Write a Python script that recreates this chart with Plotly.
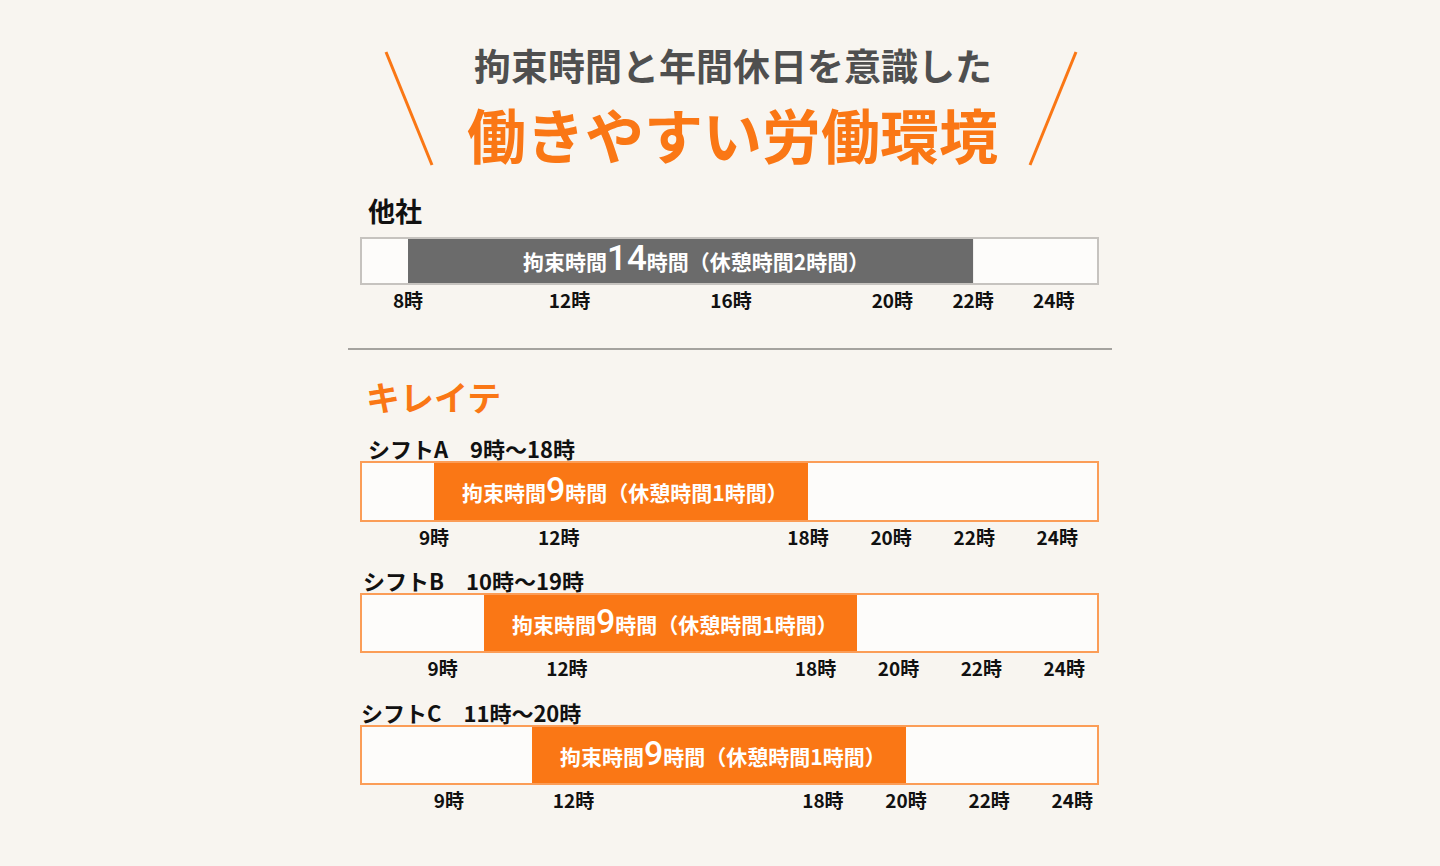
import plotly.graph_objects as go

W, H = 1440, 866
BG = "#f8f5f0"
ORANGE = "#fa7715"
GRAY_BAR = "#6b6b6b"
FONT = "Noto Sans CJK JP"
DIGIT_FONT = "Roboto"

# ---- data ----
other_label = "他社"
other_start, other_end = 8, 22
other_total, other_break = 14, 2
other_ticks = [8, 12, 16, 20, 22, 24]

shift_names = ["シフトA", "シフトB", "シフトC"]
shift_starts = [9, 10, 11]
shift_ends = [18, 19, 20]
shift_total = [9, 9, 9]
shift_break = [1, 1, 1]
shift_ticks = [9, 12, 18, 20, 22, 24]

title1 = "拘束時間と年間休日を意識した"
title2 = "働きやすい労働環境"
section2 = "キレイテ"

# ---- layout helpers (pixel -> paper) ----
def px(x):
    return x / W

def py(y):
    return 1 - y / H

box_x = [362, 1097]
rows = [  # (top, bottom) pixel of each box
    (239, 283),
    (463, 520),
    (595, 651),
    (727, 783),
]
ranges = [
    [6.86, 25.07],
    [7.267, 24.955],
    [7.056, 24.791],
    [6.909, 24.596],
]
text_shift = [(5, 2), (4, 2), (4, 2), (4, 2)]

fig = go.Figure()
annotations = []
layout = {}

def bar_text(total, brk, big):
    return (f"拘束時間<span style='font-size:{big}px;font-family:{DIGIT_FONT};font-weight:500'>{total}</span>"
            f"時間（休憩時間{brk}時間）")

all_rows = [(other_start, other_end, other_total, other_break, GRAY_BAR, "#c6c3bf", other_ticks, 35)]
for s, e, t, b in zip(shift_starts, shift_ends, shift_total, shift_break):
    all_rows.append((s, e, t, b, ORANGE, "#fb9d57", shift_ticks, 34))

for i, (s, e, t, b, col, lcol, ticks, big) in enumerate(all_rows):
    n = "" if i == 0 else str(i + 1)
    xa, ya = "x" + n, "y" + n
    fig.add_trace(go.Bar(
        x=[e - s], base=[s], y=[0], orientation="h", width=1,
        marker=dict(color=col, line=dict(width=0)),
        xaxis=xa, yaxis=ya, hoverinfo="skip", showlegend=False,
    ))
    top, bot = rows[i]
    layout["xaxis" + n] = dict(
        domain=[px(box_x[0]), px(box_x[1])], anchor=ya, range=ranges[i],
        tickvals=ticks, ticktext=[f"{v}時" for v in ticks],
        tickfont=dict(family=FONT, size=19, color="#111111", weight=700),
        showgrid=False, zeroline=False, showline=True, mirror=True,
        linecolor=lcol, linewidth=1.5, ticks="", fixedrange=True,
        ticklabelstandoff=0,
    )
    layout["yaxis" + n] = dict(
        domain=[py(bot), py(top)], anchor=xa, range=[-0.5, 0.5],
        showticklabels=False, showgrid=False, zeroline=False,
        showline=True, mirror=True, linecolor=lcol, linewidth=1.5,
        fixedrange=True,
    )
    annotations.append(dict(
        x=(s + e) / 2, y=0, xref=xa, yref=ya, text=bar_text(t, b, big),
        showarrow=False, font=dict(family=FONT, size=21, color="white", weight=700),
        xanchor="center", yanchor="middle",
        xshift=text_shift[i][0], yshift=text_shift[i][1],
    ))

# titles
annotations += [
    dict(x=px(733), y=py(65), xref="paper", yref="paper", text=title1,
         showarrow=False, font=dict(family=FONT, size=37, color="#4f4f4f", weight=700),
         xanchor="center", yanchor="middle"),
    dict(x=px(732), y=py(133), xref="paper", yref="paper", text=title2,
         showarrow=False, font=dict(family=FONT, size=59, color=ORANGE, weight=700),
         xanchor="center", yanchor="middle"),
    dict(x=px(366), y=py(210), xref="paper", yref="paper", text=other_label,
         showarrow=False, font=dict(family=FONT, size=27, color="#111111", weight=700),
         xanchor="left", yanchor="middle"),
    dict(x=px(364), y=py(396), xref="paper", yref="paper", text=section2,
         showarrow=False, font=dict(family=FONT, size=34, color=ORANGE, weight=700),
         xanchor="left", yanchor="middle"),
]
label_pos = [(366, 448), (361, 580), (359, 712)]
for name, s, e, (lx, ly) in zip(shift_names, shift_starts, shift_ends, label_pos):
    annotations.append(dict(
        x=px(lx), y=py(ly), xref="paper", yref="paper",
        text=f"{name}\u3000{s}時〜{e}時", showarrow=False,
        font=dict(family=FONT, size=22, color="#111111", weight=700),
        xanchor="left", yanchor="middle"))

shapes = [
    dict(type="line", xref="paper", yref="paper", x0=px(386), y0=py(52), x1=px(432), y1=py(165),
         line=dict(color=ORANGE, width=3)),
    dict(type="line", xref="paper", yref="paper", x0=px(1076), y0=py(52), x1=px(1030), y1=py(165),
         line=dict(color=ORANGE, width=3)),
    dict(type="line", xref="paper", yref="paper", x0=px(348), y0=py(349), x1=px(1112), y1=py(349),
         line=dict(color="#8a8785", width=1.5)),
]

fig.update_layout(
    width=W, height=H, margin=dict(l=0, r=0, t=0, b=0),
    paper_bgcolor=BG, plot_bgcolor="#fdfcfa",
    annotations=annotations, shapes=shapes, barmode="overlay",
    showlegend=False, **layout,
)

fig.write_html(
    "out.html",
    config={"displayModeBar": False},
    post_script="document.body.style.margin='0';document.body.style.overflow='hidden';",
)
